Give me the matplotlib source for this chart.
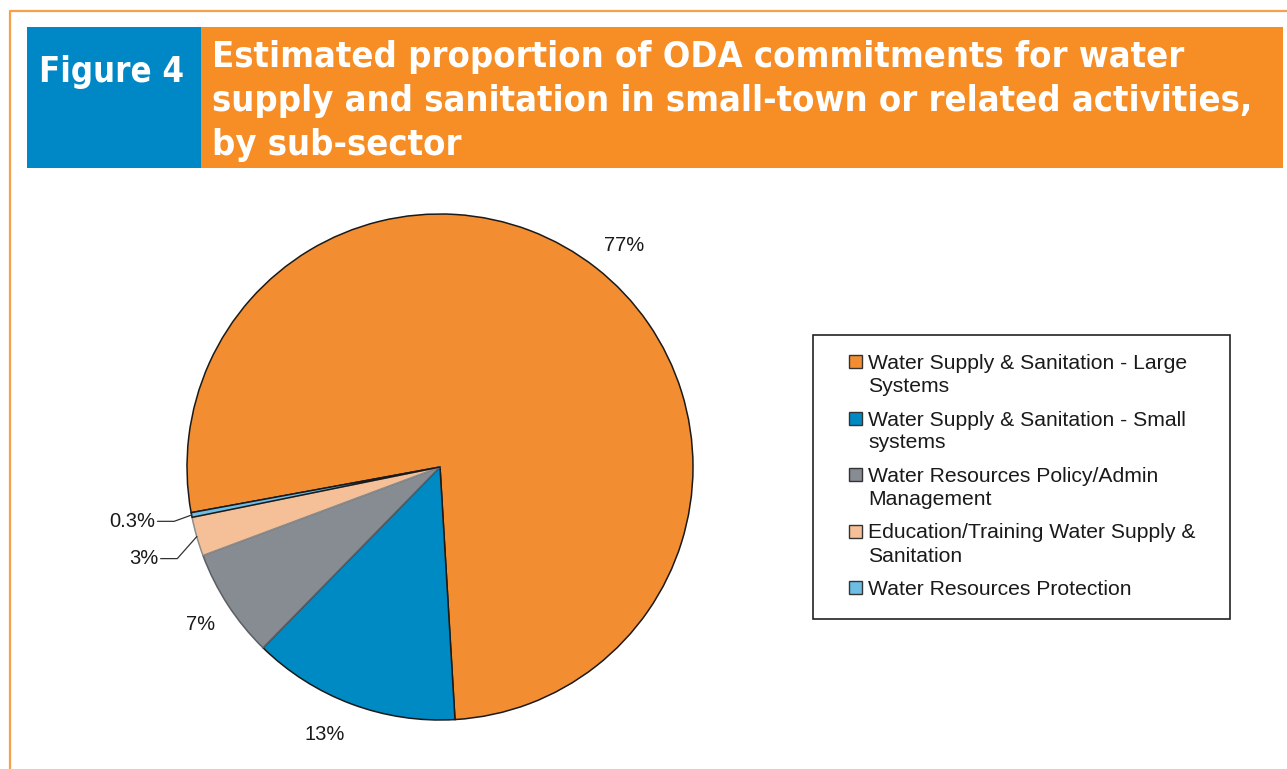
import matplotlib.pyplot as plt
import numpy as np
from matplotlib.patches import Rectangle
from matplotlib.lines import Line2D

# data
categories = [
    "Water Supply & Sanitation - Large\nSystems",
    "Water Supply & Sanitation - Small\nsystems",
    "Water Resources Policy/Admin\nManagement",
    "Education/Training Water Supply &\nSanitation",
    "Water Resources Protection",
]
shares = [77.1, 13.3, 7.0, 2.5, 0.3]
pct_labels = ["77%", "13%", "7%", "3%", "0.3%"]
colors = ["#F28D31", "#008AC3", "#878C92", "#F5C097", "#6DBDE5"]
edge_colors = ["#1a1a1a", "#1a1a1a", "#5a5f66", "#8c8c8c", "#1a1a1a"]

title_tag = "Figure 4"
title_lines = [
    "Estimated proportion of ODA commitments for water",
    "supply and sanitation in small-town or related activities,",
    "by sub-sector",
]

W, H = 1287, 769
CX, CY, R_PX = 440, 467, 253  # pie centre and radius in pixels (from top-left)
HEAD_FONT = ["Liberation Sans Narrow", "DejaVu Sans"]
BODY_FONT = ["Liberation Sans", "DejaVu Sans"]
TEXT_COL = "#1a1a1a"


def fx(x):
    return x / W


def fy(y):
    return 1 - y / H


def fit_width(texts, target, renderer):
    w = max(t.get_window_extent(renderer).width for t in texts)
    for t in texts:
        t.set_fontsize(t.get_fontsize() * target / w)


def draw_header(fig):
    # page frame: only top and left edges fall inside the picture
    fig.add_artist(Line2D([fx(10), fx(10), 1.0], [0, fy(11), fy(11)],
                          color="#F7A04A", lw=1.6))
    fig.add_artist(Rectangle((fx(27), fy(168)), fx(201 - 27), (168 - 27) / H,
                             facecolor="#0088C6", lw=0))
    fig.add_artist(Rectangle((fx(201), fy(168)), fx(1283 - 201), (168 - 27) / H,
                             facecolor="#F68D25", lw=0))
    tag = fig.text(fx(39), fy(82), title_tag, color="white", fontsize=36,
                   family=HEAD_FONT, fontweight="bold", fontstretch="condensed",
                   ha="left", va="baseline")
    lines = []
    for i, line in enumerate(title_lines):
        lines.append(fig.text(fx(212), fy(67 + 44 * i), line, color="white",
                              fontsize=28, family=HEAD_FONT, fontweight="bold",
                              fontstretch="condensed", ha="left", va="baseline"))
    renderer = fig.canvas.get_renderer()
    fit_width([tag], 145, renderer)
    fit_width(lines, 1040, renderer)


def draw_pie(fig):
    ax = fig.add_axes([fx(60), 0, fx(800 - 60), (H - 180) / H])
    wedges, _ = ax.pie(shares, colors=colors, startangle=190.4, counterclock=False,
                       radius=1, wedgeprops=dict(linewidth=1.1))
    for w, ec in zip(wedges, edge_colors):
        w.set_edgecolor(ec)
    ax.set_aspect("auto")
    ax.set_xlim((60 - CX) / R_PX, (800 - CX) / R_PX)
    ax.set_ylim((CY - H) / R_PX, (CY - 180) / R_PX)

    # small slices get a leader line, the rest sit just outside the rim
    leader = {3: (-0.152, -0.087), 4: (-0.144, -0.025)}
    nudge = {0: (0.025, -0.02), 1: (-0.055, 0.01), 2: (0.01, 0.0)}
    for i, w in enumerate(wedges):
        mid = np.deg2rad((w.theta1 + w.theta2) / 2)
        ex, ey = np.cos(mid), np.sin(mid)
        if i in leader:
            tx, ty = ex + leader[i][0], ey + leader[i][1]
            ax.plot([tx + 0.01, tx + 0.075, ex], [ty, ty, ey], color="#333333", lw=0.9)
            ax.text(tx, ty, pct_labels[i], ha="right", va="center", fontsize=14.5,
                    family=BODY_FONT, color=TEXT_COL)
        else:
            dx, dy = nudge[i]
            ax.text(1.14 * ex + dx, 1.14 * ey + dy, pct_labels[i],
                    ha="center", va="center", fontsize=14.5,
                    family=BODY_FONT, color=TEXT_COL)


def draw_legend(fig):
    fig.add_artist(Rectangle((fx(813), fy(619)), fx(1230 - 813), (619 - 335) / H,
                             facecolor="white", edgecolor="#222222", lw=1.2))
    for i, (name, c) in enumerate(zip(categories, colors)):
        base = 369 + 56.5 * i
        fig.add_artist(Rectangle((fx(849), fy(base - 1)), fx(13), 13 / H,
                                 facecolor=c, edgecolor="#333333", lw=1.0))
        for j, part in enumerate(name.split("\n")):
            fig.text(fx(868), fy(base + 23 * j), part, fontsize=15.2,
                     family=BODY_FONT, color=TEXT_COL, ha="left", va="baseline")


def main():
    fig = plt.figure(figsize=(W / 100, H / 100), dpi=100)
    draw_header(fig)
    draw_pie(fig)
    draw_legend(fig)
    fig.savefig("out.png", dpi=100)


if __name__ == "__main__":
    main()
